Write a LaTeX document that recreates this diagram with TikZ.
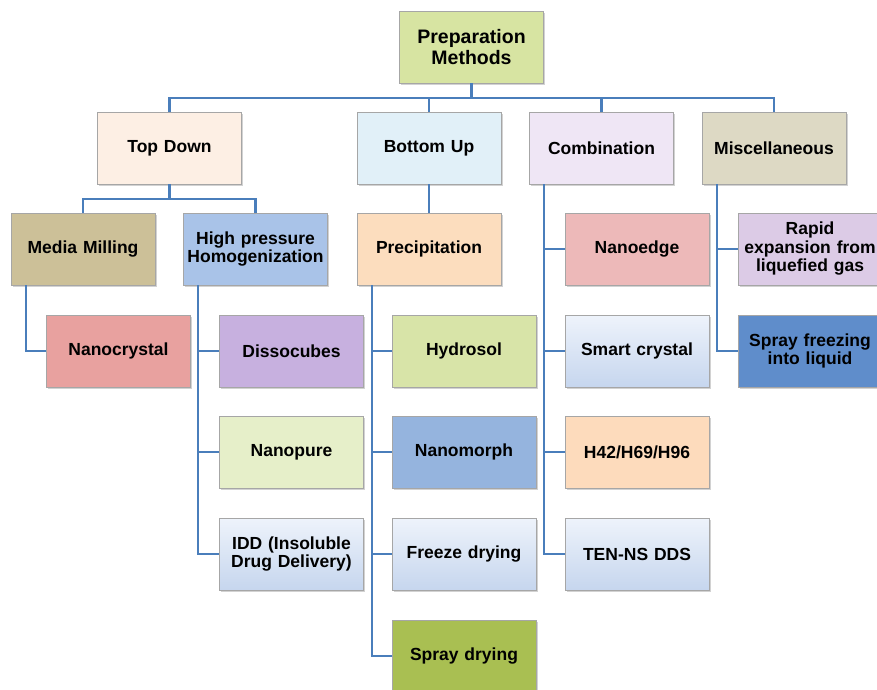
\documentclass[tikz,border=0pt]{standalone}
\usepackage{fontspec}
\setmainfont{Liberation Sans}
\usetikzlibrary{shadows,calc}
\definecolor{cline}{HTML}{4A7EBB}
\definecolor{cprep}{HTML}{D7E4A2}
\definecolor{ctd}{HTML}{FDEFE4}
\definecolor{cbu}{HTML}{E1F0F8}
\definecolor{ccomb}{HTML}{EFE6F5}
\definecolor{cmisc}{HTML}{DDD9C4}
\definecolor{cmm}{HTML}{CCC098}
\definecolor{chph}{HTML}{A9C3E8}
\definecolor{cprec}{HTML}{FCDDBE}
\definecolor{cedge}{HTML}{EDB9B9}
\definecolor{crapid}{HTML}{DCCBE6}
\definecolor{cncr}{HTML}{E8A19F}
\definecolor{cdiss}{HTML}{C7B0DF}
\definecolor{chydro}{HTML}{D8E4A8}
\definecolor{csfz}{HTML}{5F8DCB}
\definecolor{cnpure}{HTML}{E6EFC9}
\definecolor{cnmorph}{HTML}{95B4DE}
\definecolor{ch}{HTML}{FDDBBC}
\definecolor{cspray}{HTML}{A9BF52}
\definecolor{gtop}{HTML}{EEF3FB}
\definecolor{gbot}{HTML}{C6D6EE}
\tikzset{
  box/.style={draw=black!35, line width=0.6pt, minimum width=144pt, minimum height=72pt,
    text width=142pt, align=center, inner sep=1pt, font=\fontsize{17.5}{18.5}\selectfont\bfseries,
    drop shadow={shadow xshift=1.5pt, shadow yshift=-2pt, opacity=0.35}},
  grad/.style={box, top color=gtop, bottom color=gbot},
  conn/.style={draw=cline, line width=2.4pt}
}
\begin{document}
\begin{tikzpicture}[x=1pt,y=-1pt]
\useasboundingbox (0,0) rectangle (877,689);
\fill[white] (0,0) rectangle (877,689);
\node[box, fill=cprep, font=\fontsize{19.5}{20.5}\selectfont\bfseries] (prep) at (471.5,47) {Preparation\\Methods};
\node[box, fill=ctd] (td) at (169.5,148) {Top Down};
\node[box, fill=cbu] (bu) at (429,148) {Bottom Up};
\node[box, fill=ccomb] (comb) at (601.5,148) {Combination};
\node[box, fill=cmisc] (misc) at (774,148) {Miscellaneous};
\node[box, fill=cmm] (mm) at (83,249) {Media Milling};
\node[box, fill=chph] (hph) at (255.5,249) {High pressure\\Homogenization};
\node[box, fill=cprec] (prec) at (429,249) {Precipitation};
\node[box, fill=cedge] (edge) at (637,249) {Nanoedge};
\node[box, fill=crapid] (rapid) at (810,249) {Rapid\\expansion from\\liquefied gas};
\node[box, fill=cncr] (ncr) at (118.5,351) {Nanocrystal};
\node[box, fill=cdiss] (diss) at (291.5,351) {Dissocubes};
\node[box, fill=chydro] (hydro) at (464,351) {Hydrosol};
\node[grad] (smart) at (637,351) {Smart crystal};
\node[box, fill=csfz] (sfz) at (810,351) {Spray freezing\\into liquid};
\node[box, fill=cnpure] (npure) at (291.5,452) {Nanopure};
\node[box, fill=cnmorph] (nmorph) at (464,452) {Nanomorph};
\node[box, fill=ch] (hh) at (637,452) {H42/H69/H96};
\node[grad] (idd) at (291.5,554) {IDD (Insoluble\\Drug Delivery)};
\node[grad] (freeze) at (464,554) {Freeze drying};
\node[grad] (ten) at (637,554) {TEN-NS DDS};
\node[box, fill=cspray] (spray) at (464,656) {Spray drying};
\coordinate (bus) at (0,98);
\coordinate (tdbus) at (0,199);
\draw[conn] (prep.south) -- (prep.south |- bus);
\draw[conn] (td.north) -- (td.north |- bus) -| (misc.north);
\draw[conn] (bu.north) -- (bu.north |- bus);
\draw[conn] (comb.north) -- (comb.north |- bus);
\draw[conn] (td.south) -- (td.south |- tdbus);
\draw[conn] (mm.north) -- (mm.north |- tdbus) -| (hph.north);
\draw[conn] (bu.south) -- (prec.north);
\coordinate (mmx) at ($(mm.south west)+(15,0)$);
\draw[conn] (mmx) |- (ncr.west);
\coordinate (hphx) at ($(hph.south west)+(15,0)$);
\draw[conn] (hphx) |- (diss.west);
\draw[conn] (hphx) |- (npure.west);
\draw[conn] (hphx) |- (idd.west);
\coordinate (precx) at ($(prec.south west)+(15,0)$);
\draw[conn] (precx) |- (hydro.west);
\draw[conn] (precx) |- (nmorph.west);
\draw[conn] (precx) |- (freeze.west);
\draw[conn] (precx) |- (spray.west);
\coordinate (combx) at ($(comb.south west)+(15,0)$);
\draw[conn] (combx) |- (edge.west);
\draw[conn] (combx) |- (smart.west);
\draw[conn] (combx) |- (hh.west);
\draw[conn] (combx) |- (ten.west);
\coordinate (miscx) at ($(misc.south west)+(15,0)$);
\draw[conn] (miscx) |- (rapid.west);
\draw[conn] (miscx) |- (sfz.west);
\end{tikzpicture}
\end{document}
